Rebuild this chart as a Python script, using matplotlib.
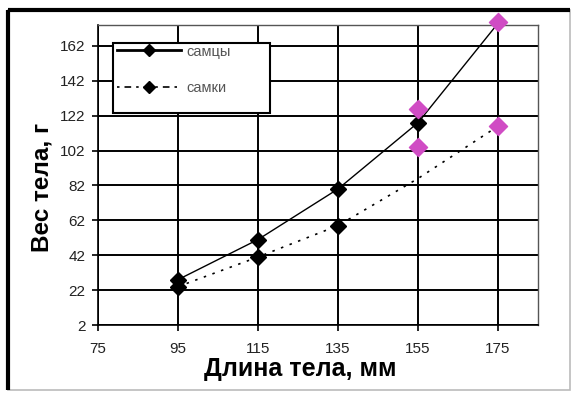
import numpy as np
import matplotlib.pyplot as plt
from matplotlib.patches import Rectangle

plt.rcParams['font.family'] = ['Liberation Sans', 'DejaVu Sans']

length = [95, 115, 135, 155, 175]
males = [28, 51, 80, 118, 175]
females = [24, 41, 59, 86, 116]
# separate highlighted points (pink)
pink_x = [155, 155, 175, 175]
pink_y = [126, 104, 176, 116]

xticks = [75, 95, 115, 135, 155, 175]
yticks = [2, 22, 42, 62, 82, 102, 122, 142, 162]

fig = plt.figure(figsize=(5.75, 3.94), dpi=100)
ax = fig.add_axes([0.1704, 0.1751, 0.7653, 0.7614])

ax.plot(length, males, color='black', lw=1, marker='D', ms=8,
        markevery=[0, 1, 2, 3], zorder=4)
ax.plot(length, females, color='black', lw=1.2, ls=(0, (1.5, 4)),
        marker='D', ms=8, markevery=[0, 1, 2], zorder=4)
ax.scatter(pink_x, pink_y, marker='D', s=85, color='#d04cc4', zorder=5,
           clip_on=False)

ax.set_xlim(75, 185)
ax.set_ylim(2, 174)
ax.set_xticks(xticks)
ax.set_yticks(yticks)
ax.grid(True, color='black', lw=1.4)
ax.set_axisbelow(True)
for s in ['top', 'right']:
    ax.spines[s].set_color('#555555')
    ax.spines[s].set_linewidth(1)
for s in ['left', 'bottom']:
    ax.spines[s].set_linewidth(1.2)
ax.tick_params(direction='out', length=4, width=1.2, labelsize=11,
               colors='black')
ax.tick_params(axis='x', pad=8)
ax.tick_params(axis='y', pad=5)
for lab in ax.get_xticklabels() + ax.get_yticklabels():
    lab.set_color('#222222')

ax.set_xlabel('Длина тела, мм', fontsize=18, fontweight='bold')
ax.set_ylabel('Вес тела, г', fontsize=17.5, fontweight='bold')
ax.xaxis.set_label_coords(0.459, -0.108)
ax.yaxis.set_label_coords(-0.10, 0.46)

# legend: entries without frame, box drawn separately
ax.plot([], [], color='black', lw=2, marker='D', ms=6, label='самцы')
ax.plot([], [], color='black', lw=1.2, ls=(0, (1.5, 3, 4, 3)), marker='D',
        ms=6, label='самки')
leg = ax.legend(loc='upper left', bbox_to_anchor=(0.043, 0.935),
                fontsize=10.5, handlelength=4.4, labelspacing=1.55,
                borderpad=0, borderaxespad=0, frameon=False,
                handletextpad=0.35)
for t in leg.get_texts():
    t.set_color('#555555')
leg.set_zorder(7)
ax.add_patch(Rectangle((0.034, 0.7067), 0.357, 0.2333, transform=ax.transAxes,
                       facecolor='white', edgecolor='black', lw=1.5, zorder=6))

# outer frame of the picture
fig.patches.append(Rectangle((0.014, 0.01), 0.978, 0.965, transform=fig.transFigure,
                             fill=False, edgecolor='#bbbbbb', lw=1.2))
fig.patches.append(Rectangle((0.014, 0.975), 0.978, 0.0, transform=fig.transFigure,
                             fill=False, edgecolor='black', lw=3))
fig.patches.append(Rectangle((0.014, 0.01), 0.0, 0.965, transform=fig.transFigure,
                             fill=False, edgecolor='black', lw=3))

fig.savefig('out.png', dpi=100)
